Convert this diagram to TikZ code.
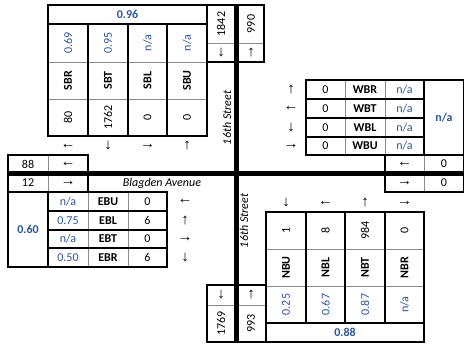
\documentclass[tikz,border=0pt]{standalone}
\usepackage{fontspec}
\setmainfont{Carlito}
\newfontfamily\arrfont{Liberation Sans}
\definecolor{valblue}{HTML}{2F5597}
\definecolor{rulegray}{HTML}{8C8C8C}
\begin{document}
\begin{tikzpicture}[x=1pt,y=-1pt,
  every node/.style={inner sep=0pt, font=\fontsize{12}{14}\selectfont},
  val/.style={text=valblue},
  tot/.style={text=valblue, font=\fontsize{12}{14}\selectfont\bfseries},
  lbl/.style={font=\fontsize{12}{14}\selectfont\bfseries},
  vert/.style={rotate=90},
  arr/.style={font=\fontsize{15}{16}\arrfont},
  street/.style={font=\fontsize{12}{14}\selectfont\itshape},
  blk/.style={draw=black, line width=1.5pt},
  gry/.style={draw=rulegray, line width=1pt},
  road/.style={draw=black, line width=5pt},
]
\useasboundingbox (0,0) rectangle (474,349);

% ---------- grey inner rules ----------
\draw[gry] (48,62) -- (207,62) (48,99) -- (207,99);
\draw[gry] (207,43) -- (264,43);
\draw[gry] (345,80) -- (345,155) (385,80) -- (385,155);
\draw[gry] (424,155) -- (424,192);
\draw[gry] (48,155) -- (48,192);
\draw[gry] (88,192) -- (88,267) (128,192) -- (128,267);
\draw[gry] (207,305) -- (266,305);
\draw[gry] (266,249) -- (424,249) (266,286) -- (424,286);

% ---------- black rules ----------
% southbound block
\draw[blk] (48,5) rectangle (207,136);
\draw[blk] (48,24) -- (207,24);
\draw[blk] (88,24) -- (88,136) (128,24) -- (128,136) (167,24) -- (167,136);
% 1842 / 990 block
\draw[blk] (207,5) rectangle (264,62);
% westbound block
\draw[blk] (306,80) rectangle (463.5,155);
\draw[blk] (306,99) -- (424,99) (306,118) -- (424,118) (306,137) -- (424,137);
\draw[blk] (424,80) -- (424,155);
% right small block
\draw[blk] (385,155) rectangle (463.5,192);
% left small block
\draw[blk] (8,155) rectangle (88,192);
\draw[blk] (88,192) -- (167,192);
% eastbound block
\draw[blk] (8,192) rectangle (167,267);
\draw[blk] (48,192) -- (48,267);
\draw[blk] (48,211) -- (167,211) (48,230) -- (167,230) (48,248) -- (167,248);
% 1769 / 993 block
\draw[blk] (207,285) rectangle (266,342);
% northbound block
\draw[blk] (266,212) rectangle (424,342);
\draw[blk] (266,323) -- (424,323);
\draw[blk] (306,212) -- (306,323) (345,212) -- (345,323) (385,212) -- (385,323);

% ---------- streets ----------
\draw[road] (236.5,4.5) -- (236.5,342.5);
\draw[road] (7.5,173.5) -- (464,173.5);

% ---------- southbound ----------
\node[tot] (sbtot) at (127.5,14.5) {0.96};
\node[val,vert] (sbrp) at (68,43) {0.69};
\node[val,vert] (sbtp) at (108,43) {0.95};
\node[val,vert] (sblp) at (147.5,43) {n/a};
\node[val,vert] (sbup) at (187,43) {n/a};
\node[lbl,vert] (sbr) at (68,80.5) {SBR};
\node[lbl,vert] (sbt) at (108,80.5) {SBT};
\node[lbl,vert] (sbl) at (147.5,80.5) {SBL};
\node[lbl,vert] (sbu) at (187,80.5) {SBU};
\node[vert] (sbrv) at (68,117.5) {80};
\node[vert] (sbtv) at (108,117.5) {1762};
\node[vert] (sblv) at (147.5,117.5) {0};
\node[vert] (sbuv) at (187,117.5) {0};
\node[arr] (sbra) at (68,146) {←};
\node[arr] (sbta) at (108,146) {↓};
\node[arr] (sbla) at (147.5,146) {→};
\node[arr] (sbua) at (187,146) {↑};

% ---------- north leg totals ----------
\node[vert] (nin) at (221,24) {1842};
\node[arr] (nina) at (221,52.5) {↓};
\node[vert] (nout) at (251,24) {990};
\node[arr] (nouta) at (251,52.5) {↑};
\node[street,vert] (st1) at (227,118) {16th Street};

% ---------- westbound ----------
\node[arr] (wbra) at (291,89.5) {↑};
\node[arr] (wbta) at (291,108.5) {←};
\node[arr] (wbla) at (291,127.5) {↓};
\node[arr] (wbua) at (291,146) {→};
\node (wbrv) at (325.5,89.5) {0};
\node (wbtv) at (325.5,108.5) {0};
\node (wblv) at (325.5,127.5) {0};
\node (wbuv) at (325.5,146) {0};
\node[lbl] (wbr) at (365,89.5) {WBR};
\node[lbl] (wbt) at (365,108.5) {WBT};
\node[lbl] (wbl) at (365,127.5) {WBL};
\node[lbl] (wbu) at (365,146) {WBU};
\node[val] (wbrp) at (404.5,89.5) {n/a};
\node[val] (wbtp) at (404.5,108.5) {n/a};
\node[val] (wblp) at (404.5,127.5) {n/a};
\node[val] (wbup) at (404.5,146) {n/a};
\node[tot] (wbtot) at (444,117.5) {n/a};
\node[arr] (ein) at (404.5,164) {←};
\node (einv) at (444,164) {0};
\node[arr] (eout) at (404.5,183) {→};
\node (eoutv) at (444,183) {0};

% ---------- west leg ----------
\node (woutv) at (28,164) {88};
\node[arr] (wout) at (68,164) {←};
\node (winv) at (28,183) {12};
\node[arr] (win) at (68,183) {→};
\node[street] (st2) at (162,183) {Blagden Avenue};

% ---------- eastbound ----------
\node[tot] (ebtot) at (28,229.5) {0.60};
\node[val] (ebup) at (68,201.5) {n/a};
\node[val] (eblp) at (68,220.5) {0.75};
\node[val] (ebtp) at (68,239) {n/a};
\node[val] (ebrp) at (68,257.5) {0.50};
\node[lbl] (ebu) at (108,201.5) {EBU};
\node[lbl] (ebl) at (108,220.5) {EBL};
\node[lbl] (ebt) at (108,239) {EBT};
\node[lbl] (ebr) at (108,257.5) {EBR};
\node (ebuv) at (147.5,201.5) {0};
\node (eblv) at (147.5,220.5) {6};
\node (ebtv) at (147.5,239) {0};
\node (ebrv) at (147.5,257.5) {6};
\node[arr] (ebua) at (185,201.5) {←};
\node[arr] (ebla) at (185,220.5) {↑};
\node[arr] (ebta) at (185,239) {→};
\node[arr] (ebra) at (185,257.5) {↓};

% ---------- south leg totals ----------
\node[arr] (souta) at (221,295) {↓};
\node[vert] (sout) at (221,323.5) {1769};
\node[arr] (sina) at (251,295) {↑};
\node[vert] (sin) at (251,323.5) {993};
\node[street,vert] (st3) at (244,221) {16th Street};

% ---------- northbound ----------
\node[arr] (nbua) at (286,203) {↓};
\node[arr] (nbla) at (325.5,203) {←};
\node[arr] (nbta) at (365,203) {↑};
\node[arr] (nbra) at (404.5,203) {→};
\node[vert] (nbuv) at (286,230.5) {1};
\node[vert] (nblv) at (325.5,230.5) {8};
\node[vert] (nbtv) at (365,230.5) {984};
\node[vert] (nbrv) at (404.5,230.5) {0};
\node[lbl,vert] (nbu) at (286,267.5) {NBU};
\node[lbl,vert] (nbl) at (325.5,267.5) {NBL};
\node[lbl,vert] (nbt) at (365,267.5) {NBT};
\node[lbl,vert] (nbr) at (404.5,267.5) {NBR};
\node[val,vert] (nbup) at (286,304.5) {0.25};
\node[val,vert] (nblp) at (325.5,304.5) {0.67};
\node[val,vert] (nbtp) at (365,304.5) {0.87};
\node[val,vert] (nbrp) at (404.5,304.5) {n/a};
\node[tot] (nbtot) at (345,332.5) {0.88};
\end{tikzpicture}
\end{document}
